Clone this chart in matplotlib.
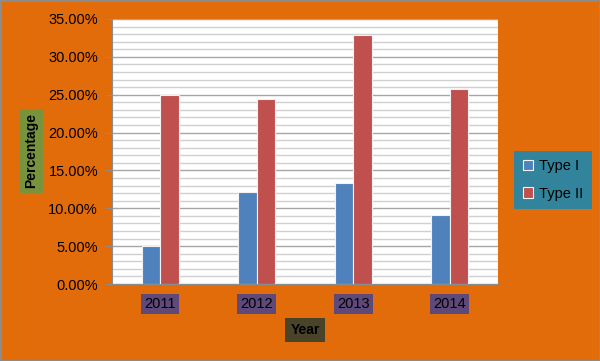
import matplotlib
matplotlib.use("Agg")
import matplotlib.pyplot as plt
import numpy as np
from matplotlib.patches import Rectangle

years = ["2011", "2012", "2013", "2014"]
type1 = [5.0, 12.2, 13.4, 9.1]
type2 = [25.0, 24.4, 32.9, 25.7]
series_names = ["Type I", "Type II"]
yticks = [0, 5, 10, 15, 20, 25, 30, 35]

plt.rcParams['font.family'] = ['Liberation Sans', 'DejaVu Sans']
W, H = 600, 361
fig = plt.figure(figsize=(6.0, 3.61), dpi=100)
orange = '#E36C0A'
fig.patch.set_facecolor(orange)
fig.add_artist(Rectangle((0, 0), 1, 1, transform=fig.transFigure, fill=False,
                         edgecolor='#8C8C8C', linewidth=2))

L, R, T, B = 112, 498, 19, 284
ax = fig.add_axes([L / W, 1 - B / H, (R - L) / W, (B - T) / H])
ax.set_facecolor('white')
x = np.arange(len(years))
bw = 0.19
ax.bar(x - bw / 2, type1, bw, color='#4F81BD', edgecolor='#F2F2F2', linewidth=0.8,
       label=series_names[0], zorder=3)
ax.bar(x + bw / 2, type2, bw, color='#C0504D', edgecolor='#F2F2F2', linewidth=0.8,
       label=series_names[1], zorder=3)
ax.set_xlim(-0.5, len(years) - 0.5)
ax.set_ylim(0, 35)
ax.set_yticks(yticks)
ax.set_yticklabels([f"{v:.2f}%" for v in yticks], fontsize=10.5)
ax.set_yticks(np.arange(0, 35, 1), minor=True)
ax.grid(axis='y', which='major', color='#A6A6A6', linewidth=1.0, zorder=1)
ax.grid(axis='y', which='minor', color='#D0D0D0', linewidth=1.0, zorder=1)
ax.tick_params(axis='y', which='major', length=5, color='#8C8C8C', pad=5)
ax.tick_params(axis='y', which='minor', length=0)
ax.set_xticks(x)
ax.set_xticklabels(years, fontsize=10.5)
ax.tick_params(axis='x', length=0, pad=9.5)
for lab in ax.get_xticklabels():
    lab.set_bbox(dict(boxstyle='square,pad=0.22', facecolor='#5F497A', edgecolor='none'))
for s in ['top', 'right']:
    ax.spines[s].set_visible(False)
ax.spines['left'].set_color('#8C8C8C')
ax.spines['bottom'].set_color('#8C8C8C')

fig.text(305 / W, 1 - 330 / H, "Year", fontsize=10, fontweight='bold', ha='center', va='center',
         bbox=dict(boxstyle='square,pad=0.38', facecolor='#494429', edgecolor='none'))
fig.text(31.5 / W, 1 - 151 / H, "Percentage", fontsize=10, fontweight='bold', rotation=90,
         ha='center', va='center',
         bbox=dict(boxstyle='square,pad=0.35', facecolor='#77933C', edgecolor='none'))

leg = fig.legend(loc='center', bbox_to_anchor=(553 / W, 1 - 180 / H), fontsize=10.5,
                 frameon=True, fancybox=False, handlelength=0.7, handleheight=0.7,
                 handletextpad=0.35, labelspacing=0.9, borderpad=0.6, borderaxespad=0)
leg.get_frame().set_facecolor('#31849B')
leg.get_frame().set_edgecolor('none')
leg.get_frame().set_alpha(1)
for h in leg.legend_handles:
    h.set_edgecolor('#F2F2F2')

fig.savefig("out.png", dpi=100, facecolor=fig.get_facecolor())
